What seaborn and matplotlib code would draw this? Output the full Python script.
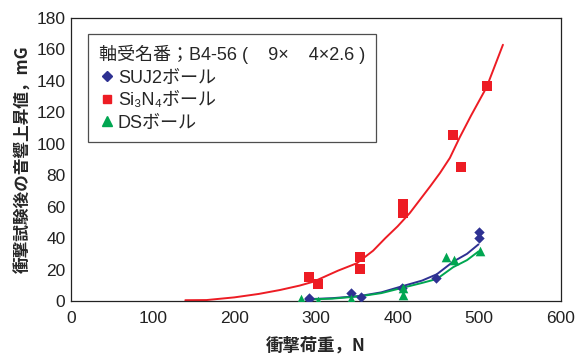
import numpy as np
import pandas as pd
import matplotlib
matplotlib.use("Agg")
import matplotlib.pyplot as plt
import seaborn as sns

sns.set_style("white")
plt.rcParams['font.family'] = ['Liberation Sans', 'Noto Sans CJK JP', 'DejaVu Sans']

# --- data ---
series_names = ["SUJ2ボール", "Si₃N₄ボール", "DSボール"]

suj2_x = [292, 292, 343, 355, 405, 447, 500, 500]
suj2_y = [1.1, 2.0, 5.3, 2.7, 8.0, 14.4, 40.0, 44.0]

si3n4_x = [291, 302, 354, 354, 406, 406, 468, 478, 510]
si3n4_y = [15.1, 10.6, 27.8, 20.2, 62.0, 55.8, 105.4, 85.0, 136.6]

ds_x = [282, 303, 343, 343, 407, 407, 459, 469, 501]
ds_y = [1.0, 0.2, 0.2, 1.2, 3.8, 8.0, 27.8, 25.9, 31.8]

red_curve_x = [140, 166, 200, 230, 256, 280, 297, 327, 350, 370, 385, 400, 415, 440, 452, 464, 476, 490, 509, 529]
red_curve_y = [0.5, 0.6, 2.3, 4.5, 7.0, 9.8, 12.3, 19.3, 24.0, 32.0, 40.0, 47.5, 56.0, 73.0, 81.5, 91.0, 104.0, 118.0, 136.0, 163.0]

blue_curve_x = [292, 320, 354, 380, 403, 430, 448, 468, 485, 499]
blue_curve_y = [1.2, 1.8, 3.2, 5.5, 9.0, 13.0, 17.0, 25.0, 30.0, 36.0]

green_curve_x = [292, 320, 354, 380, 403, 430, 448, 468, 485, 499]
green_curve_y = [1.0, 1.5, 3.0, 5.0, 8.0, 11.5, 14.0, 21.5, 26.0, 31.5]

x_ticks = [0, 100, 200, 300, 400, 500, 600]
y_ticks = [0, 20, 40, 60, 80, 100, 120, 140, 160, 180]

legend_title = "軸受名番；B4-56 (    9×    4×2.6 )"
x_label = "衝撃荷重，N"
y_label = "衝撃試験後の音響上昇値，mG"

colors = ["#2e3192", "#ed1c24", "#00a651"]
markers = ["D", "s", "^"]
msizes = [28, 44, 48]

pts = pd.DataFrame({
    "x": suj2_x + si3n4_x + ds_x,
    "y": suj2_y + si3n4_y + ds_y,
    "s": [series_names[0]] * len(suj2_x) + [series_names[1]] * len(si3n4_x) + [series_names[2]] * len(ds_x),
})
curves = pd.DataFrame({
    "x": blue_curve_x + red_curve_x + green_curve_x,
    "y": blue_curve_y + red_curve_y + green_curve_y,
    "s": [series_names[0]] * len(blue_curve_x) + [series_names[1]] * len(red_curve_x) + [series_names[2]] * len(green_curve_x),
})

fig = plt.figure(figsize=(5.75, 3.6), dpi=100)
ax = fig.add_axes([0.1235, 0.1639, 0.852, 0.786])

for name, c in zip(series_names, colors):
    sub = curves[curves.s == name]
    sns.lineplot(data=sub, x="x", y="y", ax=ax, color=c, lw=1.4, sort=False, legend=False)

handles = []
for name, c, m, ms in zip(series_names, colors, markers, msizes):
    sub = pts[pts.s == name]
    sns.scatterplot(data=sub, x="x", y="y", ax=ax, color=c, marker=m, s=ms, linewidth=0, legend=False, zorder=3)
    handles.append(plt.Line2D([], [], ls="none", marker=m, color=c, markersize=ms ** 0.5 * 0.95, label=name))

ax.set_xlim(0, 600)
ax.set_ylim(0, 180)
ax.set_xticks(x_ticks)
ax.set_yticks(y_ticks)
ax.tick_params(direction="in", length=4, width=0.8, labelsize=12.5, colors="#222222", pad=4)
ax.tick_params(axis="x", pad=7)
for sp in ax.spines.values():
    sp.set_visible(True)
    sp.set_color("#222222")
    sp.set_linewidth(0.9)

ax.set_xlabel(x_label, fontsize=12.5, fontweight="bold", family=['Noto Sans CJK JP', 'DejaVu Sans'], labelpad=8)
ax.set_ylabel(y_label, fontsize=12, fontweight="bold", family=['Noto Sans CJK JP', 'DejaVu Sans'], labelpad=3)

fam = ['Liberation Sans', 'Noto Sans CJK JP', 'DejaVu Sans']
leg = ax.legend(handles=handles, title=legend_title, loc="upper left",
                bbox_to_anchor=(0.035, 0.943), frameon=True, fancybox=False,
                alignment="left",
                handletextpad=0.15, handlelength=0.9, borderpad=0.6, labelspacing=0.3,
                borderaxespad=0,
                prop={'family': fam, 'size': 13})
leg.get_frame().set_edgecolor("#222222")
leg.get_frame().set_linewidth(0.9)
leg.get_title().set_family(fam)
leg.get_title().set_fontsize(13)

fig.savefig("out.png", dpi=100)
